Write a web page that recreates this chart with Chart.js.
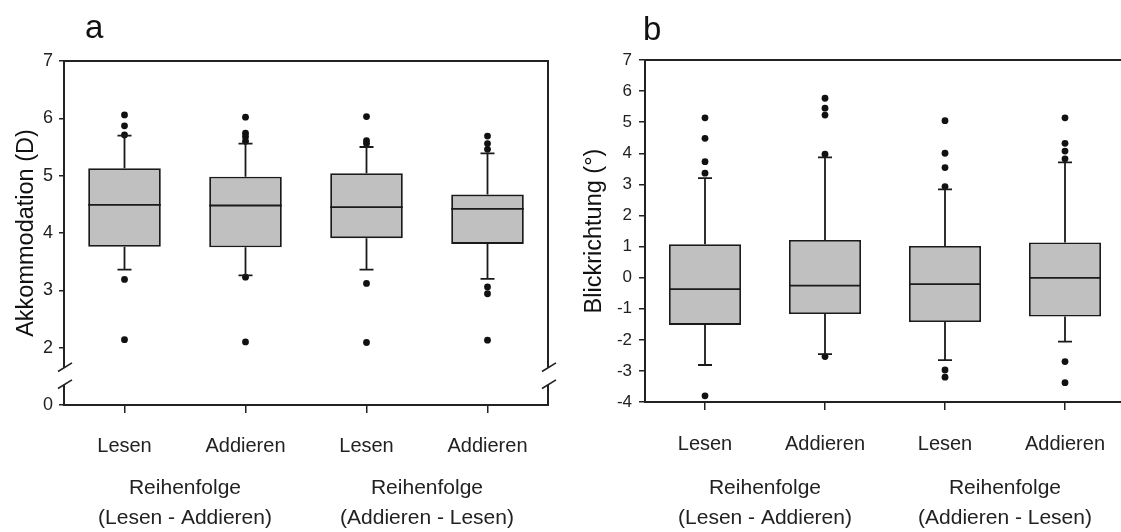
<!DOCTYPE html>
<html>
<head>
<meta charset="utf-8">
<title>Akkommodation und Blickrichtung</title>
<script src="https://cdn.jsdelivr.net/npm/chart.js@4/dist/chart.umd.min.js"></script>
<style>
  html, body { margin: 0; padding: 0; background: #fff; overflow: hidden; }
  body { width: 1121px; height: 532px; position: relative; font-family: "Liberation Sans", Arial, sans-serif; }
  .panel { position: absolute; top: 0; height: 532px; }
  #wrapA { left: 0; width: 560px; }
  #wrapB { left: 560px; width: 580px; }
  .letter { position: absolute; font-size: 33px; line-height: 33px; color: #111; }
</style>
</head>
<body>
<div class="panel" id="wrapA"><canvas id="chartA"></canvas></div>
<div class="panel" id="wrapB"><canvas id="chartB"></canvas></div>
<div class="letter" style="left:85px;top:10px">a</div>
<div class="letter" style="left:643px;top:12px">b</div>

<script>
const categories = ["Lesen", "Addieren", "Lesen", "Addieren"];
const groupLabels = [["Reihenfolge", "(Lesen - Addieren)"], ["Reihenfolge", "(Addieren - Lesen)"]];

// a: Akkommodation (D)
const accQ1 = [3.76, 3.75, 3.91, 3.81];
const accMedian = [4.49, 4.48, 4.45, 4.42];
const accQ3 = [5.13, 4.98, 5.04, 4.67];
const accWhiskerLow = [3.36, 3.26, 3.36, 3.20];
const accWhiskerHigh = [5.70, 5.56, 5.50, 5.39];
const accOutliers = [
  [6.06, 5.87, 5.71, 3.19, 2.14],
  [6.02, 5.74, 5.68, 5.60, 3.23, 2.10],
  [6.03, 5.61, 5.56, 3.12, 2.09],
  [5.69, 5.56, 5.46, 3.06, 2.94, 2.13]
];
// axis is broken between 0 and 2: "0" sits one unit below 2
const ACC_FLOOR = 1;
const ACC_BREAK = 1.5;

// b: Blickrichtung (°)
const gazeQ1 = [-1.52, -1.17, -1.43, -1.25];
const gazeMedian = [-0.37, -0.26, -0.21, -0.01];
const gazeQ3 = [1.07, 1.21, 1.02, 1.13];
const gazeWhiskerLow = [-2.81, -2.46, -2.65, -2.06];
const gazeWhiskerHigh = [3.20, 3.87, 2.84, 3.71];
const gazeOutliers = [
  [5.14, 4.48, 3.73, 3.36, -3.80],
  [5.77, 5.45, 5.23, 3.97, -2.54],
  [5.05, 4.00, 3.54, 2.93, -2.97, -3.20],
  [5.14, 4.32, 4.07, 3.82, -2.70, -3.38]
];

const INK = "#1a1a1a";

// median line, whiskers, caps, frame and axis break
const boxPlotExtras = {
  id: "boxPlotExtras",
  afterDraw(chart, args, opts) {
    const { ctx, chartArea, scales: { y } } = chart;
    const bars = chart.getDatasetMeta(0).data;
    ctx.save();
    ctx.strokeStyle = INK;
    ctx.lineWidth = 1.8;
    bars.forEach((bar, i) => {
      const half = bar.width / 2;
      const yMed = y.getPixelForValue(opts.median[i]);
      const yQ1 = y.getPixelForValue(opts.q1[i]);
      const yQ3 = y.getPixelForValue(opts.q3[i]);
      const yLo = y.getPixelForValue(opts.low[i]);
      const yHi = y.getPixelForValue(opts.high[i]);
      ctx.beginPath();
      ctx.moveTo(bar.x - half, yMed); ctx.lineTo(bar.x + half, yMed);
      ctx.moveTo(bar.x, yQ3); ctx.lineTo(bar.x, yHi);
      ctx.moveTo(bar.x, yQ1); ctx.lineTo(bar.x, yLo);
      ctx.moveTo(bar.x - 7, yHi); ctx.lineTo(bar.x + 7, yHi);
      ctx.moveTo(bar.x - 7, yLo); ctx.lineTo(bar.x + 7, yLo);
      ctx.stroke();
    });

    // frame: top and right
    ctx.lineWidth = 2;
    ctx.strokeStyle = "#222";
    ctx.beginPath();
    ctx.moveTo(chartArea.left - 1, chartArea.top);
    ctx.lineTo(chartArea.right, chartArea.top);
    ctx.lineTo(chartArea.right, chartArea.bottom + 1);
    ctx.stroke();

    if (opts.breakAt != null) {
      const yb = y.getPixelForValue(opts.breakAt);
      [chartArea.left, chartArea.right].forEach(x => {
        ctx.fillStyle = "#fff";
        ctx.fillRect(x - 3, yb - 8.5, 6, 17);
        ctx.lineWidth = 1.6;
        ctx.beginPath();
        ctx.moveTo(x - 6, yb - 4.8); ctx.lineTo(x + 8, yb - 13.5);
        ctx.moveTo(x - 6, yb + 12.2); ctx.lineTo(x + 8, yb + 3.5);
        ctx.stroke();
      });
    }
    ctx.restore();
  }
};

function outlierSets(outliers) {
  const n = Math.max(...outliers.map(o => o.length));
  const sets = [];
  for (let k = 0; k < n; k++) {
    sets.push({
      type: "line",
      data: outliers.map(o => (o[k] !== undefined ? o[k] : null)),
      showLine: false,
      pointRadius: 3.4,
      pointBackgroundColor: "#111",
      pointBorderColor: "#111",
      pointBorderWidth: 0
    });
  }
  return sets;
}

function makeBoxChart(id, cfg) {
  const ctx = document.getElementById(id).getContext("2d");
  return new Chart(ctx, {
    type: "bar",
    data: {
      labels: categories,
      datasets: [
        {
          data: cfg.q1.map((v, i) => [v, cfg.q3[i]]),
          backgroundColor: "#c0c0c0",
          borderColor: INK,
          borderWidth: 1.8,
          borderSkipped: false,
          barPercentage: 0.6,
          categoryPercentage: 1
        },
        ...outlierSets(cfg.outliers)
      ]
    },
    options: {
      responsive: true,
      maintainAspectRatio: false,
      animation: false,
      events: [],
      layout: { padding: cfg.padding },
      plugins: {
        legend: { display: false },
        tooltip: { enabled: false },
        boxPlotExtras: {
          q1: cfg.q1, q3: cfg.q3, median: cfg.median,
          low: cfg.low, high: cfg.high, breakAt: cfg.breakAt
        }
      },
      scales: {
        x: {
          offset: true,
          grid: { offset: false, drawOnChartArea: false, tickLength: 8, color: "#222", lineWidth: 1.5 },
          border: { color: "#222", width: 2 },
          ticks: { color: "#222", font: { family: "Liberation Sans", size: 20 }, padding: cfg.catPad, maxRotation: 0 },
          afterFit(s) { s.height = 57; }
        },
        x2: {
          type: "category",
          labels: groupLabels,
          position: "bottom",
          offset: true,
          grid: { display: false, drawTicks: false },
          border: { display: false },
          ticks: { color: "#222", font: { family: "Liberation Sans", size: 21, lineHeight: 1.4 }, padding: cfg.groupPad, maxRotation: 0 },
          afterFit(s) { s.height = cfg.groupHeight; }
        },
        y: {
          min: cfg.min,
          max: cfg.max,
          grid: { drawOnChartArea: false, tickLength: cfg.tickLen, color: "#222", lineWidth: 1.5 },
          border: { color: "#222", width: 2 },
          ticks: {
            stepSize: 1,
            color: "#222",
            padding: cfg.tickPad,
            font: { family: "Liberation Sans", size: cfg.tickSize },
            callback: cfg.tickLabel
          },
          title: {
            display: true,
            text: cfg.title,
            color: "#111",
            font: { family: "Liberation Sans", size: 23.5 },
            padding: { top: cfg.titlePad, bottom: 0 }
          },
          afterFit(s) { s.width = cfg.yWidth; }
        }
      }
    },
    plugins: [boxPlotExtras]
  });
}

makeBoxChart("chartA", {
  q1: accQ1, q3: accQ3, median: accMedian, low: accWhiskerLow, high: accWhiskerHigh,
  outliers: accOutliers,
  min: ACC_FLOOR, max: 7, breakAt: ACC_BREAK,
  tickLabel: v => (v === ACC_FLOOR ? "0" : v),
  title: "Akkommodation (D)",
  padding: { top: 61, right: 12, left: 0, bottom: 0 },
  yWidth: 64, tickLen: 5, tickPad: 6, tickSize: 18, titlePad: 12,
  catPad: 21, groupPad: 12, groupHeight: 70
});

makeBoxChart("chartB", {
  q1: gazeQ1, q3: gazeQ3, median: gazeMedian, low: gazeWhiskerLow, high: gazeWhiskerHigh,
  outliers: gazeOutliers,
  min: -4, max: 7, breakAt: null,
  tickLabel: v => v,
  title: "Blickrichtung (°)",
  padding: { top: 60, right: 15, left: 0, bottom: 0 },
  yWidth: 85, tickLen: 6, tickPad: 7, tickSize: 17, titlePad: 20,
  catPad: 22, groupPad: 15, groupHeight: 73
});
</script>
</body>
</html>
